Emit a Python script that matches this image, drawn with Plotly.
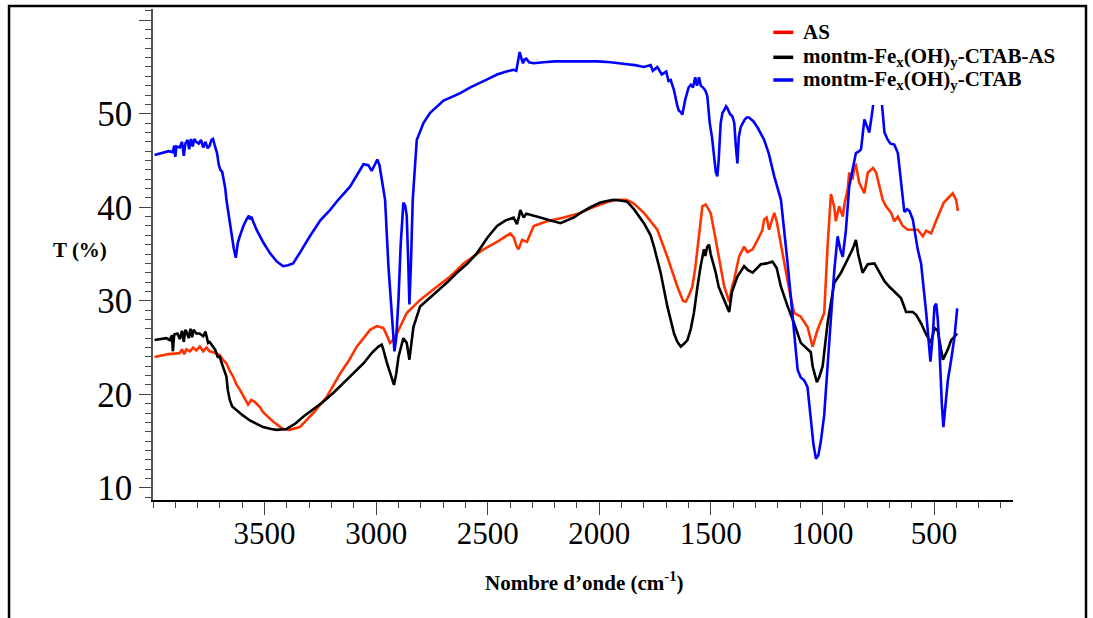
import plotly.graph_objects as go

# ---------------- data ----------------
wn_as = [3993, 3960, 3930, 3881, 3870, 3860, 3850, 3835, 3820, 3806, 3790, 3775, 3760, 3746, 3730,
         3701, 3690, 3671, 3656, 3641, 3625, 3611, 3590, 3574, 3560, 3544, 3520, 3507, 3462, 3417,
         3387, 3342, 3310, 3282, 3222, 3190, 3162, 3120, 3087, 3050, 3027, 2997, 2968, 2952, 2938,
         2925, 2907, 2863, 2803, 2728, 2668, 2608, 2519, 2458, 2399, 2384, 2370, 2362, 2346, 2324,
         2294, 2234, 2159, 2084, 2040, 1995, 1960, 1920, 1880, 1860, 1845, 1800, 1740, 1695, 1650,
         1625, 1613, 1600, 1583, 1570, 1560, 1545, 1538, 1523, 1510, 1501, 1478, 1456, 1440, 1426,
         1418, 1405, 1396, 1374, 1351, 1336, 1313, 1291, 1270, 1261, 1250, 1239, 1224, 1216, 1205,
         1194, 1171, 1149, 1127, 1097, 1067, 1044, 1022, 992, 977, 962, 947, 940, 925, 909,
         900, 887, 880, 865, 857, 850, 835, 812, 797, 773, 759, 737, 730, 715, 692,
         678, 662, 640, 617, 573, 550, 535, 513, 483, 456, 416, 401, 393]
t_as = [24.0, 24.2, 24.3, 24.4, 24.8, 24.3, 24.8, 24.6, 25.0, 24.7, 25.1, 24.6, 25.0, 24.6, 24.5,
        24.2, 23.8, 23.3, 22.5, 21.9, 21.0, 20.5, 19.5, 18.9, 19.4, 19.2, 18.6, 18.1, 17.1, 16.3,
        16.2, 16.5, 17.3, 18.0, 19.7, 21.0, 22.2, 23.7, 25.1, 26.2, 26.9, 27.3, 27.1, 26.3, 25.5,
        25.8, 26.5, 28.7, 30.1, 31.5, 32.6, 34.0, 35.5, 36.3, 37.2, 36.8, 35.8, 35.5, 36.5, 36.3,
        38.0, 38.5, 38.9, 39.4, 39.9, 40.3, 40.6, 40.8, 40.8, 40.6, 40.4, 39.4, 37.6, 34.7, 31.5,
        30.0, 29.9, 30.5, 31.5, 33.5, 35.8, 39.0, 40.1, 40.3, 39.8, 39.4, 36.5, 33.7, 31.5, 30.5,
        29.9, 31.5, 32.2, 34.7, 35.8, 35.2, 35.5, 36.5, 37.5, 38.7, 38.9, 37.6, 38.9, 39.4, 38.5,
        37.0, 34.0, 31.2, 28.7, 28.3, 27.2, 25.1, 26.9, 28.7, 35.8, 41.4, 40.0, 38.5, 40.1, 39.0,
        40.5, 41.9, 43.7, 43.0, 44.4, 44.5, 42.6, 41.5, 43.7, 44.2, 43.7, 41.5, 40.8, 40.1, 39.4,
        38.5, 39.0, 38.0, 37.6, 37.6, 36.9, 37.5, 37.2, 39.0, 40.5, 41.5, 40.8, 39.6]

wn_ctab_as = [3993, 3960, 3940, 3925, 3915, 3911, 3905, 3890, 3880, 3870, 3862, 3855, 3850, 3840, 3832,
              3825, 3818, 3806, 3791, 3775, 3765, 3753, 3746, 3731, 3720, 3710, 3701, 3690, 3680, 3671,
              3665, 3656, 3645, 3626, 3600, 3566, 3540, 3507, 3470, 3446, 3401, 3360, 3327, 3280, 3237,
              3190, 3147, 3100, 3057, 3020, 2990, 2975, 2968, 2952, 2935, 2920, 2910, 2900, 2878, 2863,
              2851, 2840, 2833, 2803, 2760, 2728, 2680, 2638, 2590, 2548, 2500, 2458, 2420, 2384, 2369,
              2360, 2354, 2339, 2327, 2309, 2234, 2174, 2115, 2084, 2040, 1995, 1960, 1935, 1900, 1875,
              1860, 1845, 1800, 1770, 1755, 1725, 1695, 1665, 1650, 1635, 1620, 1605, 1590, 1576, 1560,
              1546, 1531, 1525, 1516, 1508, 1501, 1490, 1478, 1465, 1448, 1430, 1418, 1405, 1381, 1351,
              1335, 1313, 1290, 1276, 1250, 1224, 1205, 1186, 1156, 1127, 1097, 1067, 1052, 1044, 1025,
              1015, 999, 977, 947, 917, 887, 865, 850, 840, 820, 797, 767, 745, 722, 700,
              678, 648, 625, 595, 580, 558, 535, 513, 498, 483, 470, 460, 438, 423, 396]
t_ctab_as = [25.8, 25.9, 26.0, 25.8, 26.3, 24.6, 26.4, 26.5, 25.9, 26.8, 25.6, 26.9, 26.7, 26.0, 27.0,
             26.1, 26.9, 26.5, 26.5, 26.2, 26.7, 25.5, 25.6, 25.1, 24.7, 24.0, 24.0, 23.2, 22.5, 21.9,
             20.5, 19.4, 18.7, 18.3, 17.8, 17.2, 16.9, 16.5, 16.3, 16.2, 16.3, 16.9, 17.6, 18.4, 19.2,
             20.2, 21.2, 22.2, 23.3, 24.4, 25.1, 25.3, 24.8, 23.4, 22.0, 21.0, 22.2, 24.0, 26.0, 25.5,
             23.7, 26.0, 27.2, 29.4, 30.3, 31.0, 32.0, 33.0, 34.0, 35.1, 36.8, 38.0, 38.6, 38.9, 38.2,
             39.0, 39.7, 38.9, 39.3, 39.2, 38.7, 38.3, 38.9, 39.4, 40.0, 40.5, 40.7, 40.8, 40.7, 40.6,
             40.2, 39.8, 38.3, 37.0, 35.8, 33.0, 29.4, 26.5, 25.6, 25.1, 25.4, 25.8, 27.0, 28.7, 31.5,
             33.7, 35.5, 34.8, 35.8, 36.0, 35.0, 34.0, 33.0, 31.5, 30.5, 29.5, 28.8, 31.0, 32.6, 33.7,
             33.3, 33.0, 33.6, 33.9, 34.0, 34.2, 33.5, 31.5, 29.4, 27.6, 25.5, 24.9, 24.5, 23.0, 21.3,
             21.8, 23.0, 27.6, 31.9, 33.0, 34.4, 35.5, 36.5, 35.0, 33.0, 33.9, 34.0, 33.0, 32.1, 31.5,
             31.0, 30.3, 28.8, 28.8, 28.5, 27.6, 26.4, 25.5, 27.1, 26.8, 25.0, 23.7, 24.8, 25.8, 26.5]

wn_ctab = [3993, 3960, 3930, 3911, 3905, 3900, 3895, 3880, 3870, 3862, 3855, 3845, 3838, 3830, 3822,
           3815, 3806, 3795, 3785, 3775, 3765, 3755, 3746, 3738, 3731, 3722, 3713, 3705, 3698, 3690,
           3686, 3676, 3671, 3660, 3648, 3638, 3629, 3620, 3611, 3595, 3581, 3570, 3565, 3559, 3550,
           3536, 3505, 3476, 3445, 3417, 3395, 3372, 3340, 3297, 3250, 3207, 3170, 3117, 3087, 3057,
           3035, 3020, 3005, 2995, 2985, 2975, 2960, 2945, 2930, 2918, 2910, 2900, 2890, 2878, 2870,
           2863, 2856, 2851, 2844, 2836, 2818, 2800, 2788, 2758, 2728, 2698, 2660, 2623, 2580, 2533,
           2500, 2458, 2420, 2384, 2372, 2365, 2357, 2350, 2342, 2335, 2327, 2315, 2294, 2250, 2200,
           2159, 2100, 2050, 2009, 1950, 1900, 1875, 1840, 1800, 1770, 1760, 1740, 1720, 1700, 1690,
           1680, 1665, 1650, 1643, 1635, 1628, 1615, 1600, 1590, 1580, 1570, 1562, 1553, 1545, 1535,
           1525, 1516, 1505, 1495, 1486, 1478, 1471, 1465, 1456, 1448, 1440, 1432, 1426, 1415, 1403,
           1395, 1388, 1381, 1375, 1366, 1350, 1340, 1329, 1310, 1290, 1261, 1240, 1216, 1186, 1170,
           1156, 1140, 1127, 1111, 1097, 1082, 1067, 1052, 1040, 1029, 1018, 1007, 992, 977, 962,
           947, 932, 920, 909, 895, 880, 865, 850, 835, 827, 812, 800, 790, 775, 767,
           760, 748, 737, 722, 707, 695, 678, 662, 648, 633, 620, 610, 595, 573, 558,
           535, 516, 505, 498, 490, 483, 476, 465, 458, 450, 438, 423, 408, 396]
t_ctab = [45.6, 45.8, 46.0, 45.9, 46.6, 45.4, 46.5, 46.4, 47.0, 45.5, 46.8, 47.2, 46.2, 47.3, 46.5,
          47.3, 47.0, 46.8, 47.2, 46.4, 47.0, 46.3, 46.6, 47.2, 47.3, 46.5, 45.8, 44.5, 44.0, 43.8,
          43.3, 42.0, 40.8, 39.0, 37.2, 35.6, 34.6, 36.2, 36.9, 38.0, 38.7, 39.1, 38.7, 39.0, 38.4,
          37.6, 36.2, 35.1, 34.2, 33.7, 33.8, 34.0, 35.2, 36.9, 38.6, 39.7, 40.8, 42.2, 43.4, 44.6,
          44.5, 43.9, 44.6, 45.1, 44.5, 42.9, 40.8, 33.7, 28.0, 24.6, 26.0, 30.1, 36.0, 40.5, 40.2,
          39.1, 34.0, 29.6, 34.0, 40.8, 47.2, 48.3, 49.0, 50.1, 50.8, 51.4, 51.8, 52.2, 52.8, 53.3,
          53.7, 54.2, 54.5, 54.7, 54.6, 55.5, 56.6, 56.0, 55.4, 55.8, 55.9, 55.5, 55.4, 55.5, 55.6,
          55.6, 55.6, 55.6, 55.6, 55.5, 55.4, 55.3, 55.2, 55.0, 55.2, 54.6, 55.0, 54.2, 54.5, 53.5,
          53.6, 52.5, 50.8, 50.3, 50.2, 49.9, 51.5, 52.8, 53.1, 52.8, 53.9, 53.0, 53.9, 53.0, 52.8,
          52.5, 51.9, 49.0, 47.5, 45.1, 43.8, 43.3, 45.0, 49.0, 50.1, 50.4, 50.8, 50.6, 50.0, 49.7,
          49.0, 46.5, 44.7, 47.5, 48.6, 49.3, 49.6, 49.6, 49.2, 48.5, 47.2, 45.7, 43.3, 40.8, 37.5,
          34.0, 30.0, 26.9, 22.6, 21.8, 21.5, 20.8, 17.2, 14.6, 13.1, 13.5, 15.0, 17.8, 23.0, 28.7,
          33.2, 36.9, 35.5, 34.7, 37.5, 42.2, 44.0, 45.8, 46.0, 46.2, 49.4, 48.5, 48.0, 50.5, 52.3,
          53.5, 53.5, 52.0, 48.0, 47.2, 46.8, 46.7, 45.8, 43.0, 39.5, 39.8, 39.6, 38.7, 35.5, 34.0,
          28.7, 23.5, 26.5, 29.4, 29.7, 28.0, 25.1, 19.0, 16.5, 18.5, 21.5, 23.7, 26.2, 29.2]

names = ["AS",
         "montm-Fe<sub>x</sub>(OH)<sub>y</sub>-CTAB-AS",
         "montm-Fe<sub>x</sub>(OH)<sub>y</sub>-CTAB"]
colors = ["#FF3300", "#000000", "#0000FF"]
swatch_colors = ["#FF0000", "#000000", "#0000FF"]

x_tickvals = [3500, 3000, 2500, 2000, 1500, 1000, 500]
x_ticktext = ["3500", "3000", "2500", "2000", "1500", "1000", "500"]
y_tickvals = [10, 20, 30, 40, 50, 60]
y_ticktext = ["10", "20", "30", "40", "50", ""]

serif = "Liberation Serif"

fig = go.Figure()
for wn, t, name, col in zip([wn_as, wn_ctab_as, wn_ctab], [t_as, t_ctab_as, t_ctab], names, colors):
    fig.add_trace(go.Scatter(x=wn, y=t, mode="lines", name=name,
                             line=dict(color=col, width=2.6)))

fig.update_layout(
    width=1093, height=618,
    margin=dict(l=153, r=80, t=9, b=118),
    paper_bgcolor="white", plot_bgcolor="white",
    showlegend=False,
    font=dict(family=serif, color="black"),
)

fig.update_xaxes(range=[4000, 146], showgrid=False, zeroline=False,
                 showline=True, linecolor="black", linewidth=1.5,
                 tickmode="array", tickvals=x_tickvals, ticktext=x_ticktext,
                 ticks="outside", ticklen=13, tickwidth=1.2, tickcolor="#444",
                 ticklabelstandoff=-8,
                 tickfont=dict(family=serif, size=31, color="black"),
                 minor=dict(dtick=100, tick0=0, ticks="outside", ticklen=6,
                            tickwidth=1, tickcolor="#444"))
fig.update_yaxes(range=[8.7, 61.2], showgrid=False, zeroline=False,
                 showline=True, linecolor="#555", linewidth=1.5,
                 tickmode="array", tickvals=y_tickvals, ticktext=y_ticktext,
                 ticks="outside", ticklen=12, tickwidth=1.2, tickcolor="#444",
                 tickfont=dict(family=serif, size=35, color="black"),
                 minor=dict(dtick=1, tick0=0, ticks="outside", ticklen=6,
                            tickwidth=1, tickcolor="#444"))

# axis titles
fig.add_annotation(text="<b>T (%)</b>", xref="paper", yref="paper",
                   x=-0.0849, y=0.509, xanchor="center", yanchor="middle", showarrow=False,
                   font=dict(family=serif, size=21, color="black"))
fig.add_annotation(text="<b>Nombre d’onde (cm<sup>-1</sup>)</b>", xref="paper", yref="paper",
                   x=0.502, y=-0.167, xanchor="center", yanchor="middle", showarrow=False,
                   font=dict(family=serif, size=21, color="black"))

# legend box (white background hides the clipped peak, as in the reference)
fig.add_shape(type="rect", xref="paper", yref="paper", layer="above",
              x0=0.7116, x1=1.072, y0=0.8045, y1=0.9898,
              line=dict(width=0), fillcolor="white")
leg_y = [0.9525, 0.9016, 0.8554]
for name, sc, yy in zip(names, swatch_colors, leg_y):
    fig.add_shape(type="line", xref="paper", yref="paper", layer="above",
                  x0=0.7213, x1=0.7445, y0=yy, y1=yy,
                  line=dict(color=sc, width=3.5))
    fig.add_annotation(text="<b>" + name + "</b>", xref="paper", yref="paper",
                       x=0.7531, y=yy, xanchor="left", yanchor="middle", showarrow=False,
                       font=dict(family=serif, size=21, color="black"))

# outer frame
fig.add_shape(type="rect", xref="paper", yref="paper",
              x0=-0.1674, x1=1.0849, y0=-0.27, y1=1.006,
              line=dict(color="black", width=2.5), fillcolor="rgba(0,0,0,0)")

fig.write_html("out.html", config={"displayModeBar": False},
               post_script="document.body.style.margin='0';")
